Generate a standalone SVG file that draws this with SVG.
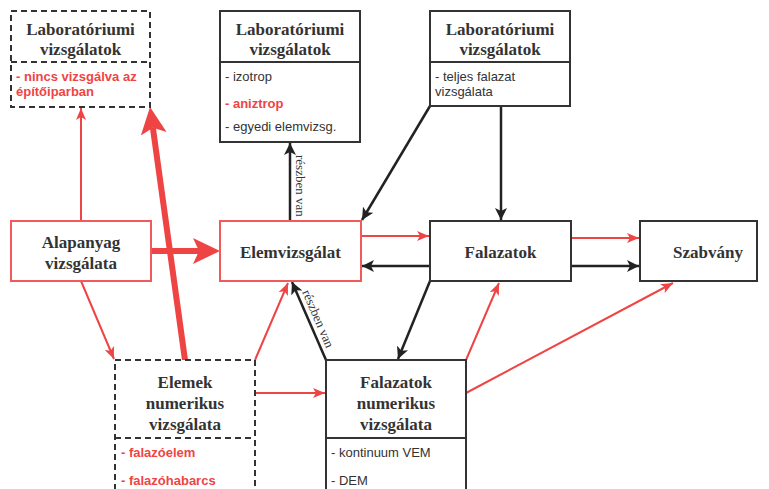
<svg xmlns="http://www.w3.org/2000/svg" width="769" height="489" viewBox="0 0 769 489">
<defs>
<style>
.bg{fill:#ffffff}
.box{fill:#ffffff;stroke:#333333;stroke-width:2}
.dbox{fill:#ffffff;stroke:#333333;stroke-width:2;stroke-dasharray:6 4}
.rbox{fill:#ffffff;stroke:#f05a5a;stroke-width:2}
.div{stroke:#333333;stroke-width:2;fill:none}
.ddiv{stroke:#333333;stroke-width:2;fill:none;stroke-dasharray:6 4}
.t{font-family:"Liberation Serif","Times New Roman",serif;font-weight:bold;font-size:17px;fill:#333333;text-anchor:middle}
.li{font-family:"Liberation Sans",Arial,sans-serif;font-size:13px;fill:#333333}
.lr{font-family:"Liberation Sans",Arial,sans-serif;font-size:13px;font-weight:bold;fill:#ef4444}
.lab{font-family:"Liberation Serif","Times New Roman",serif;font-size:13px;fill:#333333}
.r{stroke:#ef4444;stroke-width:2;fill:none;marker-end:url(#ar)}
.k{stroke:#222222;stroke-width:2.5;fill:none;marker-end:url(#ak)}
.rt{stroke:#ef4444;stroke-width:6;fill:none;marker-end:url(#art)}
</style>
<marker id="ar" markerUnits="userSpaceOnUse" markerWidth="13" markerHeight="10" refX="12" refY="5" orient="auto"><path d="M0,0 L12,5 L0,10 L3,5 z" fill="#ef4444"/></marker>
<marker id="ak" markerUnits="userSpaceOnUse" markerWidth="13" markerHeight="12" refX="12" refY="6" orient="auto"><path d="M0,0 L12,6 L0,12 L3,6 z" fill="#222222"/></marker>
<marker id="art" markerUnits="userSpaceOnUse" markerWidth="28" markerHeight="26" refX="6" refY="13" orient="auto"><path d="M0,0 L27,13 L0,26 L6,13 z" fill="#ef4444"/></marker>
</defs>
<rect class="bg" x="0" y="0" width="769" height="489"/>

<g id="connectors">
<line class="r" x1="81" y1="221" x2="81" y2="108"/>
<line class="rt" x1="185" y1="360" x2="152.9" y2="127.8"/>
<line class="rt" x1="151" y1="251" x2="199" y2="251"/>
<line class="r" x1="81" y1="281" x2="114" y2="359"/>
<line class="r" x1="255" y1="360" x2="288" y2="283"/>
<line class="k" x1="326" y1="360" x2="292" y2="282"/>
<line class="k" x1="290" y1="221" x2="290" y2="143"/>
<line class="k" x1="430" y1="106" x2="362" y2="220"/>
<line class="k" x1="501" y1="106" x2="501" y2="220"/>
<line class="r" x1="361" y1="236" x2="429" y2="236"/>
<line class="k" x1="430" y1="266" x2="362" y2="266"/>
<line class="r" x1="571" y1="238" x2="639" y2="238"/>
<line class="k" x1="571" y1="266" x2="639" y2="266"/>
<line class="k" x1="430" y1="281" x2="398" y2="359"/>
<line class="r" x1="466" y1="360" x2="499" y2="283"/>
<line class="r" x1="466" y1="393" x2="673" y2="283"/>
<line class="r" x1="255" y1="393" x2="325" y2="393"/>
<text class="lab" transform="translate(296,155) rotate(90)">részben van</text>
<text class="lab" transform="translate(302,292) rotate(66.7)">részben van</text>
</g>

<g id="lab1">
<rect class="dbox" x="11" y="11" width="139" height="96"/>
<line class="ddiv" x1="11" y1="62" x2="150" y2="62"/>
<text class="t" x="80.5" y="35">Laboratóriumi</text>
<text class="t" x="80.5" y="55">vizsgálatok</text>
<text class="lr" x="16" y="81">- nincs vizsgálva az</text>
<text class="lr" x="16" y="96">építőiparban</text>
</g>

<g id="lab2">
<rect class="box" x="220" y="11" width="140" height="131"/>
<line class="div" x1="220" y1="62" x2="360" y2="62"/>
<text class="t" x="290" y="35">Laboratóriumi</text>
<text class="t" x="290" y="55">vizsgálatok</text>
<text class="li" x="225" y="81">- izotrop</text>
<text class="lr" x="225" y="108">- aniztrop</text>
<text class="li" x="225" y="131">- egyedi elemvizsg.</text>
</g>

<g id="lab3">
<rect class="box" x="430" y="11" width="140" height="95"/>
<line class="div" x1="430" y1="62" x2="570" y2="62"/>
<text class="t" x="500" y="35">Laboratóriumi</text>
<text class="t" x="500" y="55">vizsgálatok</text>
<text class="li" x="435" y="81">- teljes falazat</text>
<text class="li" x="435" y="96">vizsgálata</text>
</g>

<g id="alapanyag">
<rect class="rbox" x="11" y="221" width="140" height="60"/>
<text class="t" x="81" y="248">Alapanyag</text>
<text class="t" x="81" y="269">vizsgálata</text>
</g>

<g id="elemvizsgalat">
<rect class="rbox" x="220" y="221" width="141" height="60"/>
<text class="t" x="290.5" y="258">Elemvizsgálat</text>
</g>

<g id="falazatok">
<rect class="box" x="430" y="221" width="141" height="60"/>
<text class="t" x="500.5" y="258">Falazatok</text>
</g>

<g id="szabvany">
<rect class="box" x="640" y="221" width="117" height="60"/>
<text class="t" x="708" y="258">Szabvány</text>
</g>

<g id="elemek-num">
<rect class="dbox" x="115" y="360" width="140" height="140"/>
<line class="ddiv" x1="115" y1="438" x2="255" y2="438"/>
<text class="t" x="185" y="388">Elemek</text>
<text class="t" x="185" y="409">numerikus</text>
<text class="t" x="185" y="430">vizsgálata</text>
<text class="lr" x="121" y="457">- falazóelem</text>
<text class="lr" x="121" y="485">- falazóhabarcs</text>
</g>

<g id="falazatok-num">
<rect class="box" x="326" y="360" width="140" height="140"/>
<line class="div" x1="326" y1="438" x2="466" y2="438"/>
<text class="t" x="396" y="388">Falazatok</text>
<text class="t" x="396" y="409">numerikus</text>
<text class="t" x="396" y="430">vizsgálata</text>
<text class="li" x="331" y="457">- kontinuum VEM</text>
<text class="li" x="331" y="485">- DEM</text>
</g>
</svg>
